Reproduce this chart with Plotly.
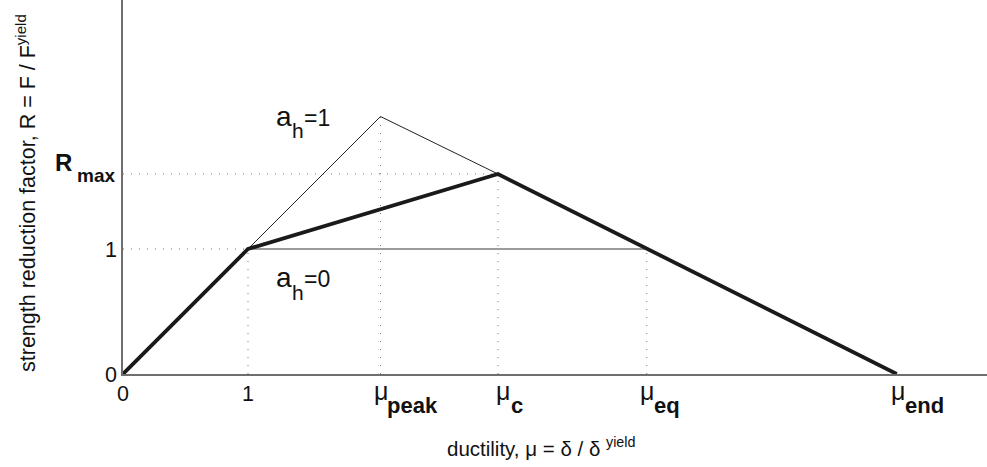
import plotly.graph_objects as go

# ---- values ----
mu_yield = 1.0
mu_peak = 2.06
mu_c = 3.0
mu_eq = 4.19
mu_end = 6.19
R_yield = 1.0
R_peak = 2.06
R_max = 1.6

# thick curve (actual backbone)
thick_x = [0, mu_yield, mu_c, mu_end]
thick_y = [0, R_yield, R_max, 0]
# a_h = 1 branch
ah1_x = [mu_yield, mu_peak, mu_c]
ah1_y = [R_yield, R_peak, R_max]
# a_h = 0 branch
ah0_x = [mu_yield, mu_eq]
ah0_y = [R_yield, R_yield]

x_tick_vals = [0, mu_yield]
x_tick_text = ["0", "1"]
mu_tick_vals = [mu_peak, mu_c, mu_eq, mu_end]
mu_tick_subs = ["peak", "c", "eq", "end"]
y_tick_vals = [0, R_yield]
y_tick_text = ["0", "1"]

FONT = "Liberation Sans, Arial, sans-serif"
TXT = "#111111"

fig = go.Figure()

# dotted guide lines
gx, gy = [], []
for yv, xe in [(R_yield, mu_yield), (R_max, mu_c)]:
    gx += [0, xe, None]
    gy += [yv, yv, None]
for xv, ye in [(mu_yield, R_yield), (mu_peak, R_peak), (mu_c, R_max), (mu_eq, R_yield)]:
    gx += [xv, xv, None]
    gy += [0, ye, None]
fig.add_trace(go.Scatter(x=gx, y=gy, mode="lines", hoverinfo="skip",
                         line=dict(color="#777777", width=1, dash="1px,7px")))

fig.add_trace(go.Scatter(x=ah0_x, y=ah0_y, mode="lines",
                         line=dict(color="#7a7a7a", width=1.6)))
fig.add_trace(go.Scatter(x=ah1_x, y=ah1_y, mode="lines",
                         line=dict(color="#222222", width=1)))
fig.add_trace(go.Scatter(x=thick_x, y=thick_y, mode="lines",
                         line=dict(color="#1a1a1a", width=3.8)))

ann = []
def A(text, x, y, xref="x", yref="y", size=20, bold=False, xanchor="center",
      yanchor="middle", xshift=0, yshift=0, angle=0):
    if bold:
        text = "<b>" + text + "</b>"
    ann.append(dict(text=text, x=x, y=y, xref=xref, yref=yref, showarrow=False,
                    font=dict(family=FONT, size=size, color=TXT),
                    xanchor=xanchor, yanchor=yanchor, xshift=xshift,
                    yshift=yshift, textangle=angle))

# x tick labels
for v, t in zip(x_tick_vals, x_tick_text):
    A(t, v, 0, yref="paper", size=21.5, yshift=-20)
mu_dx = {"peak": -9, "c": -4, "eq": -9, "end": -8}
sub_dx = {"peak": 4, "c": 11, "eq": 5, "end": 6}
for v, s in zip(mu_tick_vals, mu_tick_subs):
    A("\u03bc", v, 0, yref="paper", size=25, xanchor="left", xshift=mu_dx[s], yshift=-17)
    A(s, v, 0, yref="paper", size=22, bold=True, xanchor="left", xshift=sub_dx[s], yshift=-31)

# y tick labels
for v, t in zip(y_tick_vals, y_tick_text):
    A(t, 0, v, xref="paper", size=21.5, xanchor="right", xshift=-4, yshift=-1)
A("R", 0, R_max, xref="paper", size=24, bold=True, xanchor="right", xshift=-49, yshift=12)
A("max", 0, R_max, xref="paper", size=19, bold=True, xanchor="right", xshift=-6, yshift=-1)

# branch labels
A("a", 1.21, R_peak, size=28, xanchor="left", yshift=0)
A("h", 1.335, R_peak, size=21, xanchor="left", yshift=-14)
A("=1", 1.43, R_peak, size=23, xanchor="left", yshift=-1)
A("a", 1.21, 0.75, size=28, xanchor="left", yshift=2.5)
A("h", 1.335, 0.75, size=21, xanchor="left", yshift=-12)
A("=0", 1.43, 0.75, size=23, xanchor="left", yshift=1)

# axis titles
A("ductility, \u03bc = \u03b4 / \u03b4 <sup>yield</sup>", 0.484, 0, xref="paper",
  yref="paper", size=20.5, yshift=-73)
A("strength reduction factor, R = F / F<sup>yield</sup>", -0.113, 0.485,
  xref="paper", yref="paper", size=21.5, angle=-90)

fig.update_layout(
    width=987, height=467,
    margin=dict(l=123, r=0, t=0, b=93),
    paper_bgcolor="white", plot_bgcolor="white",
    showlegend=False,
    annotations=ann,
    xaxis=dict(range=[0, 864 / 125], showline=True, linecolor="#6e6e6e",
               linewidth=1.5, showgrid=False, zeroline=False,
               showticklabels=False, ticks=""),
    yaxis=dict(range=[0, 374 / 125], showline=True, linecolor="#6e6e6e",
               linewidth=1.5, showgrid=False, zeroline=False,
               showticklabels=False, ticks=""),
)

fig.write_html("out.html")
